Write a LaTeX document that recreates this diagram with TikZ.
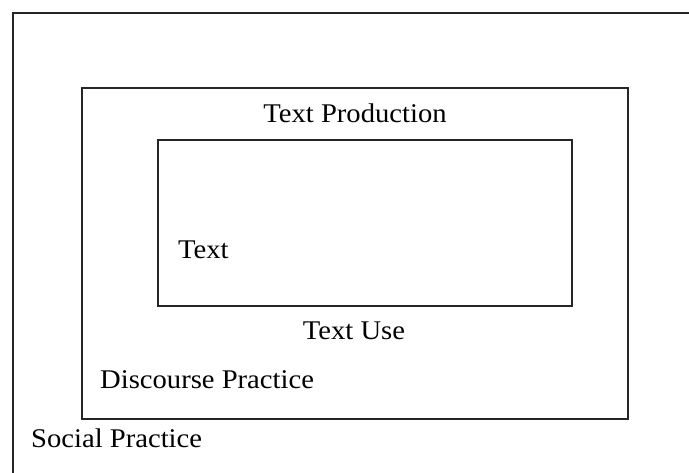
\documentclass[tikz,border=0pt]{standalone}
\usepackage{fontspec}
\setmainfont{Liberation Serif}[FakeStretch=1.06]
\begin{document}
\begin{tikzpicture}[x=1pt,y=-1pt,
  frame/.style={draw=black!85,line width=2pt},
  lbl/.style={inner sep=0pt,font=\fontsize{27}{30}\selectfont}]
\useasboundingbox (0,0) rectangle (689,472);
\clip (0,0) rectangle (689,472);
\node[frame,inner sep=0pt,minimum width=700pt,minimum height=480pt,anchor=north west] (social) at (12,12) {};
\node[frame,inner sep=0pt,minimum width=546pt,minimum height=331pt,anchor=north west] (discourse) at (81,87) {};
\node[frame,inner sep=0pt,minimum width=414pt,minimum height=166pt,anchor=north west] (text) at (157,139) {};
\node[lbl] (tprod) at (355,113) {Text Production};
\node[lbl,anchor=west] (ttext) at (178,250) {Text};
\node[lbl] (tuse) at (354,331) {Text Use};
\node[lbl,anchor=west] (tdisc) at (100,380) {Discourse Practice};
\node[lbl,anchor=west] (tsoc) at (31,438) {Social Practice};
\end{tikzpicture}
\end{document}
